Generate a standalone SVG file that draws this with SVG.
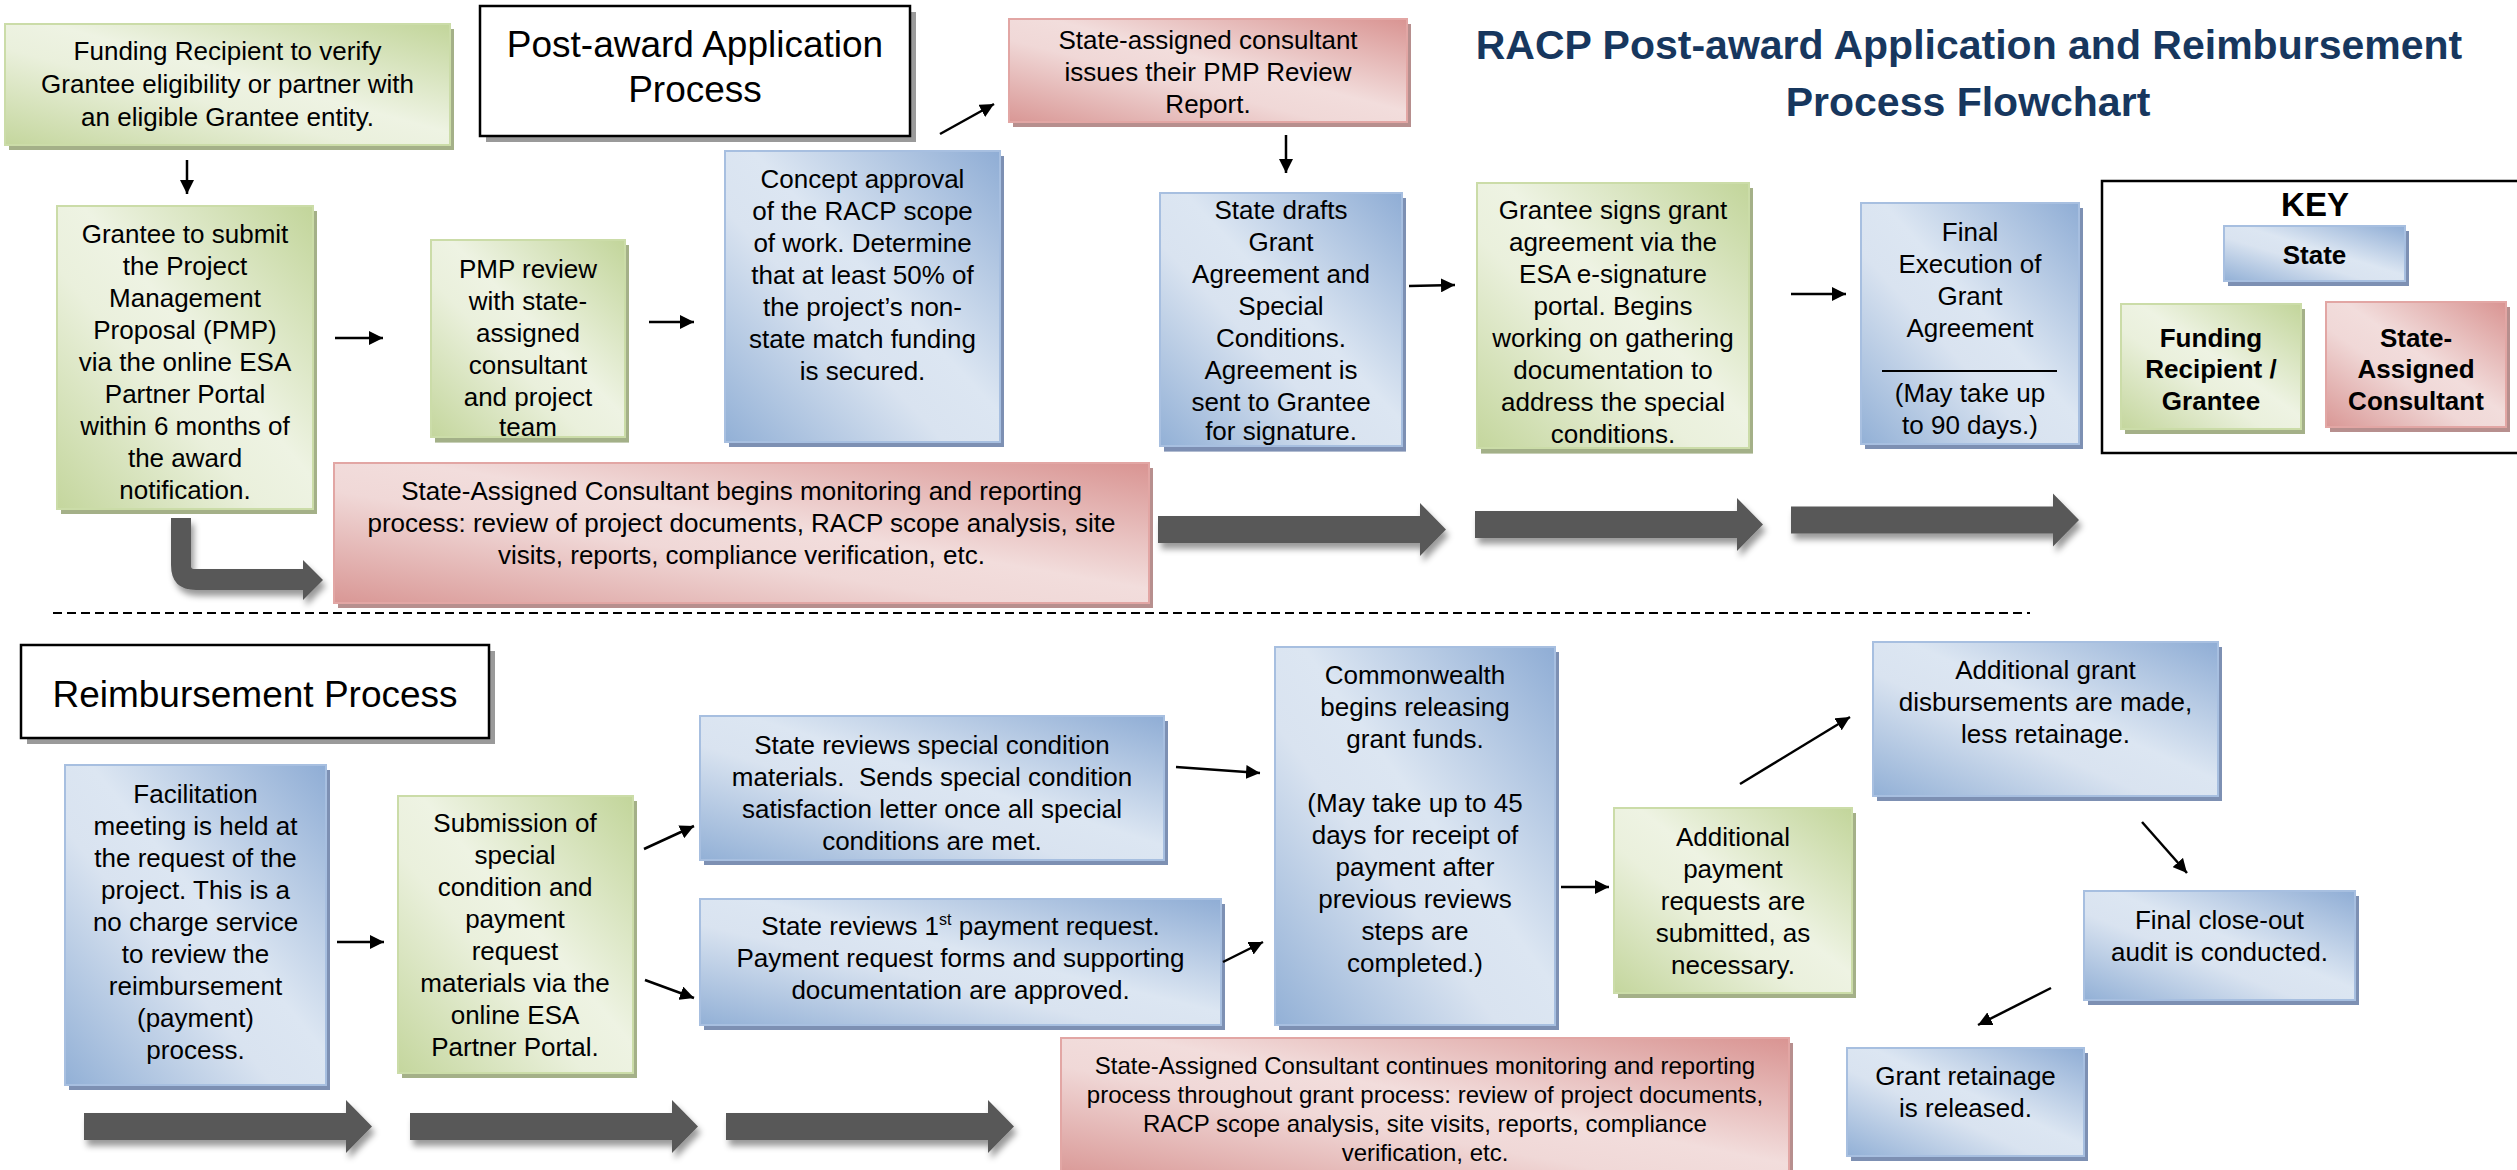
<svg xmlns="http://www.w3.org/2000/svg" xmlns:xlink="http://www.w3.org/1999/xlink" width="2517" height="1170" viewBox="0 0 2517 1170">
  <defs>
    <style>
      text { font-family: "Liberation Sans", Arial, sans-serif; fill: #000; }
      .t { font-size: 26px; text-anchor: middle; }
      .ts { font-size: 24px; text-anchor: middle; }
      .kb { font-size: 26px; font-weight: bold; text-anchor: middle; }
      .head { font-size: 37px; text-anchor: middle; }
      .title { font-size: 41px; font-weight: bold; text-anchor: middle; fill: #17375e; }
      .blue { fill: url(#gBlue); stroke: #a7bfe0; stroke-width: 2; }
      .green { fill: url(#gGreen); stroke: #cbdca8; stroke-width: 2; }
      .pink { fill: url(#gPink); stroke: #e2a6a4; stroke-width: 2; }
      .sh-blue { fill: #7d90b3; }
      .sh-green { fill: #a4b088; }
      .sh-pink { fill: #b78f8e; }
      .sh-gray { fill: #9a9a9a; }
      .plain { fill: #fff; stroke: #000; stroke-width: 2.5; }
      .conn line { stroke: #000; stroke-width: 2.5; marker-end: url(#ah); }
      .thick { fill: #595959; filter: url(#soft); }
    </style>
    <linearGradient id="gBlue" x1="1" y1="0" x2="0" y2="1">
      <stop offset="0" stop-color="#8fadd5"/>
      <stop offset="0.45" stop-color="#dce6f2"/>
      <stop offset="0.6" stop-color="#d9e3f0"/>
      <stop offset="1" stop-color="#92b0d6"/>
    </linearGradient>
    <linearGradient id="gGreen" x1="1" y1="0" x2="0" y2="1">
      <stop offset="0" stop-color="#c2d59a"/>
      <stop offset="0.45" stop-color="#eef3e3"/>
      <stop offset="0.6" stop-color="#eaf0dc"/>
      <stop offset="1" stop-color="#c4d69d"/>
    </linearGradient>
    <linearGradient id="gPink" x1="1" y1="0" x2="0" y2="1">
      <stop offset="0" stop-color="#d99492"/>
      <stop offset="0.45" stop-color="#f2dddc"/>
      <stop offset="0.6" stop-color="#f0d8d7"/>
      <stop offset="1" stop-color="#d99795"/>
    </linearGradient>
    <filter id="soft" x="-10%" y="-30%" width="120%" height="180%">
      <feDropShadow dx="3" dy="6" stdDeviation="3" flood-color="#000" flood-opacity="0.4"/>
    </filter>
    <marker id="ah" markerUnits="userSpaceOnUse" markerWidth="16" markerHeight="14" refX="14" refY="7" orient="auto">
      <path d="M0,0 L14,7 L0,14 Z" fill="#000"/>
    </marker>
    <!-- wide block arrow, origin at left end of its centre line -->
    <path id="bigArrow" d="M0,-13.5 H262 V-26.5 L288,0 L262,26.5 V13.5 H0 Z"/>
  </defs>

  <rect width="2517" height="1170" fill="#fff"/>

  <!-- heading -->
  <g id="title">
    <text class="title" x="1969" y="59">RACP Post-award Application and Reimbursement</text>
    <text class="title" x="1968" y="116">Process Flowchart</text>
  </g>

  <!-- section labels -->
  <g id="label-post-award">
    <rect class="sh-gray" x="486" y="12" width="430" height="130"/>
    <rect class="plain" x="480" y="6" width="430" height="130"/>
    <text class="head" x="695" y="57">Post-award Application</text>
    <text class="head" x="695" y="102">Process</text>
  </g>
  <g id="label-reimbursement">
    <rect class="sh-gray" x="27" y="651" width="468" height="93"/>
    <rect class="plain" x="21" y="645" width="468" height="93"/>
    <text class="head" x="255" y="707">Reimbursement Process</text>
  </g>

  <!-- post-award nodes -->
  <g id="n-verify-eligibility">
    <rect class="sh-green" x="9" y="29" width="445" height="121"/>
    <rect class="green" x="5" y="24" width="445" height="121"/>
    <text class="t" x="227.5" y="60">Funding Recipient to verify</text>
    <text class="t" x="227.5" y="93">Grantee eligibility or partner with</text>
    <text class="t" x="227.5" y="126">an eligible Grantee entity.</text>
  </g>

  <g id="n-submit-pmp">
    <rect class="sh-green" x="61" y="211" width="256" height="303"/>
    <rect class="green" x="57" y="206" width="256" height="303"/>
    <text class="t" x="185" y="243">Grantee to submit</text>
    <text class="t" x="185" y="275">the Project</text>
    <text class="t" x="185" y="307">Management</text>
    <text class="t" x="185" y="339">Proposal (PMP)</text>
    <text class="t" x="185" y="371">via the online ESA</text>
    <text class="t" x="185" y="403">Partner Portal</text>
    <text class="t" x="185" y="435">within 6 months of</text>
    <text class="t" x="185" y="467">the award</text>
    <text class="t" x="185" y="499">notification.</text>
  </g>

  <g id="n-pmp-review">
    <rect class="sh-green" x="435" y="245" width="194" height="197"/>
    <rect class="green" x="431" y="240" width="194" height="197"/>
    <text class="t" x="528" y="278">PMP review</text>
    <text class="t" x="528" y="310">with state-</text>
    <text class="t" x="528" y="342">assigned</text>
    <text class="t" x="528" y="374">consultant</text>
    <text class="t" x="528" y="406">and project</text>
    <text class="t" x="528" y="436">team</text>
    <!-- lower edge and shadow sit over the overflowing last line -->
    <rect class="sh-green" x="435" y="438" width="194" height="5" opacity="0.6"/>
    <line x1="431" y1="437" x2="625" y2="437" stroke="#cbdca8" stroke-width="2" opacity="0.8"/>
  </g>

  <g id="n-concept-approval">
    <rect class="sh-blue" x="729" y="156" width="275" height="291"/>
    <rect class="blue" x="725" y="151" width="275" height="291"/>
    <text class="t" x="862.5" y="188">Concept approval</text>
    <text class="t" x="862.5" y="220">of the RACP scope</text>
    <text class="t" x="862.5" y="252">of work. Determine</text>
    <text class="t" x="862.5" y="284">that at least 50% of</text>
    <text class="t" x="862.5" y="316">the project’s non-</text>
    <text class="t" x="862.5" y="348">state match funding</text>
    <text class="t" x="862.5" y="380">is secured.</text>
  </g>

  <g id="n-pmp-report">
    <rect class="sh-pink" x="1013" y="24" width="398" height="103"/>
    <rect class="pink" x="1009" y="19" width="398" height="103"/>
    <text class="t" x="1208" y="49">State-assigned consultant</text>
    <text class="t" x="1208" y="81">issues their PMP Review</text>
    <text class="t" x="1208" y="113">Report.</text>
  </g>

  <g id="n-state-drafts">
    <rect class="sh-blue" x="1164" y="198" width="242" height="253"/>
    <rect class="blue" x="1160" y="193" width="242" height="253"/>
    <text class="t" x="1281" y="219">State drafts</text>
    <text class="t" x="1281" y="251">Grant</text>
    <text class="t" x="1281" y="283">Agreement and</text>
    <text class="t" x="1281" y="315">Special</text>
    <text class="t" x="1281" y="347">Conditions.</text>
    <text class="t" x="1281" y="379">Agreement is</text>
    <text class="t" x="1281" y="411">sent to Grantee</text>
    <text class="t" x="1281" y="440">for signature.</text>
    <rect class="sh-blue" x="1164" y="447" width="242" height="5" opacity="0.6"/>
    <line x1="1160" y1="446" x2="1402" y2="446" stroke="#a7bfe0" stroke-width="2" opacity="0.8"/>
  </g>

  <g id="n-grantee-signs">
    <rect class="sh-green" x="1481" y="188" width="272" height="265"/>
    <rect class="green" x="1477" y="183" width="272" height="265"/>
    <text class="t" x="1613" y="219">Grantee signs grant</text>
    <text class="t" x="1613" y="251">agreement via the</text>
    <text class="t" x="1613" y="283">ESA e-signature</text>
    <text class="t" x="1613" y="315">portal. Begins</text>
    <text class="t" x="1613" y="347">working on gathering</text>
    <text class="t" x="1613" y="379">documentation to</text>
    <text class="t" x="1613" y="411">address the special</text>
    <text class="t" x="1613" y="443">conditions.</text>
    <rect class="sh-green" x="1481" y="449" width="272" height="5" opacity="0.6"/>
    <line x1="1477" y1="448" x2="1749" y2="448" stroke="#cbdca8" stroke-width="2" opacity="0.8"/>
  </g>

  <g id="n-final-execution">
    <rect class="sh-blue" x="1865" y="208" width="218" height="241"/>
    <rect class="blue" x="1861" y="203" width="218" height="241"/>
    <text class="t" x="1970" y="241">Final</text>
    <text class="t" x="1970" y="273">Execution of</text>
    <text class="t" x="1970" y="305">Grant</text>
    <text class="t" x="1970" y="337">Agreement</text>
    <line x1="1882" y1="371" x2="2057" y2="371" stroke="#000" stroke-width="2"/>
    <text class="t" x="1970" y="402">(May take up</text>
    <text class="t" x="1970" y="434">to 90 days.)</text>
  </g>

  <g id="n-consultant-monitoring">
    <rect class="sh-pink" x="338" y="468" width="815" height="140"/>
    <rect class="pink" x="334" y="463" width="815" height="140"/>
    <text class="t" x="741.5" y="500">State-Assigned Consultant begins monitoring and reporting</text>
    <text class="t" x="741.5" y="532">process: review of project documents, RACP scope analysis, site</text>
    <text class="t" x="741.5" y="564">visits, reports, compliance verification, etc.</text>
  </g>

  <!-- legend -->
  <g id="key">
    <rect x="2102" y="181" width="430" height="272" fill="#fff" stroke="#000" stroke-width="2.5"/>
    <text x="2315" y="216" font-size="33" font-weight="bold" text-anchor="middle">KEY</text>
    <g id="key-state">
      <rect class="sh-blue" x="2228" y="231" width="181" height="55"/>
      <rect class="blue" x="2224" y="226" width="181" height="55"/>
      <text class="kb" x="2314.5" y="264">State</text>
    </g>
    <g id="key-grantee">
      <rect class="sh-green" x="2125" y="309" width="180" height="125"/>
      <rect class="green" x="2121" y="304" width="180" height="125"/>
      <text class="kb" x="2211" y="347">Funding</text>
      <text class="kb" x="2211" y="378">Recipient /</text>
      <text class="kb" x="2211" y="410">Grantee</text>
    </g>
    <g id="key-consultant">
      <rect class="sh-pink" x="2330" y="307" width="180" height="125"/>
      <rect class="pink" x="2326" y="302" width="180" height="125"/>
      <text class="kb" x="2416" y="347">State-</text>
      <text class="kb" x="2416" y="378">Assigned</text>
      <text class="kb" x="2416" y="410">Consultant</text>
    </g>
  </g>

  <!-- divider between the two processes -->
  <line id="divider" x1="53" y1="613" x2="2030" y2="613" stroke="#000" stroke-width="2" stroke-dasharray="9 5"/>

  <!-- reimbursement nodes -->
  <g id="n-facilitation">
    <rect class="sh-blue" x="69" y="770" width="261" height="320"/>
    <rect class="blue" x="65" y="765" width="261" height="320"/>
    <text class="t" x="195.5" y="803">Facilitation</text>
    <text class="t" x="195.5" y="835">meeting is held at</text>
    <text class="t" x="195.5" y="867">the request of the</text>
    <text class="t" x="195.5" y="899">project. This is a</text>
    <text class="t" x="195.5" y="931">no charge service</text>
    <text class="t" x="195.5" y="963">to review the</text>
    <text class="t" x="195.5" y="995">reimbursement</text>
    <text class="t" x="195.5" y="1027">(payment)</text>
    <text class="t" x="195.5" y="1059">process.</text>
  </g>

  <g id="n-submission">
    <rect class="sh-green" x="402" y="801" width="235" height="277"/>
    <rect class="green" x="398" y="796" width="235" height="277"/>
    <text class="t" x="515" y="832">Submission of</text>
    <text class="t" x="515" y="864">special</text>
    <text class="t" x="515" y="896">condition and</text>
    <text class="t" x="515" y="928">payment</text>
    <text class="t" x="515" y="960">request</text>
    <text class="t" x="515" y="992">materials via the</text>
    <text class="t" x="515" y="1024">online ESA</text>
    <text class="t" x="515" y="1056">Partner Portal.</text>
  </g>

  <g id="n-special-conditions">
    <rect class="sh-blue" x="704" y="721" width="464" height="144"/>
    <rect class="blue" x="700" y="716" width="464" height="144"/>
    <text class="t" x="932" y="754">State reviews special condition</text>
    <text class="t" x="932" y="786" xml:space="preserve">materials.  Sends special condition</text>
    <text class="t" x="932" y="818">satisfaction letter once all special</text>
    <text class="t" x="932" y="850">conditions are met.</text>
  </g>

  <g id="n-first-payment">
    <rect class="sh-blue" x="704" y="904" width="521" height="126"/>
    <rect class="blue" x="700" y="899" width="521" height="126"/>
    <text class="t" x="960.5" y="935">State reviews 1<tspan font-size="16" dy="-10">st</tspan><tspan dy="10"> payment request.</tspan></text>
    <text class="t" x="960.5" y="967">Payment request forms and supporting</text>
    <text class="t" x="960.5" y="999">documentation are approved.</text>
  </g>

  <g id="n-commonwealth">
    <rect class="sh-blue" x="1279" y="652" width="280" height="378"/>
    <rect class="blue" x="1275" y="647" width="280" height="378"/>
    <text class="t" x="1415" y="684">Commonwealth</text>
    <text class="t" x="1415" y="716">begins releasing</text>
    <text class="t" x="1415" y="748">grant funds.</text>
    <text class="t" x="1415" y="812">(May take up to 45</text>
    <text class="t" x="1415" y="844">days for receipt of</text>
    <text class="t" x="1415" y="876">payment after</text>
    <text class="t" x="1415" y="908">previous reviews</text>
    <text class="t" x="1415" y="940">steps are</text>
    <text class="t" x="1415" y="972">completed.)</text>
  </g>

  <g id="n-additional-requests">
    <rect class="sh-green" x="1618" y="813" width="238" height="185"/>
    <rect class="green" x="1614" y="808" width="238" height="185"/>
    <text class="t" x="1733" y="846">Additional</text>
    <text class="t" x="1733" y="878">payment</text>
    <text class="t" x="1733" y="910">requests are</text>
    <text class="t" x="1733" y="942">submitted, as</text>
    <text class="t" x="1733" y="974">necessary.</text>
  </g>

  <g id="n-disbursements">
    <rect class="sh-blue" x="1877" y="647" width="345" height="154"/>
    <rect class="blue" x="1873" y="642" width="345" height="154"/>
    <text class="t" x="2045.5" y="679">Additional grant</text>
    <text class="t" x="2045.5" y="711">disbursements are made,</text>
    <text class="t" x="2045.5" y="743">less retainage.</text>
  </g>

  <g id="n-closeout">
    <rect class="sh-blue" x="2088" y="896" width="271" height="109"/>
    <rect class="blue" x="2084" y="891" width="271" height="109"/>
    <text class="t" x="2219.5" y="929">Final close-out</text>
    <text class="t" x="2219.5" y="961">audit is conducted.</text>
  </g>

  <g id="n-retainage">
    <rect class="sh-blue" x="1851" y="1053" width="237" height="108"/>
    <rect class="blue" x="1847" y="1048" width="237" height="108"/>
    <text class="t" x="1965.5" y="1085">Grant retainage</text>
    <text class="t" x="1965.5" y="1117">is released.</text>
  </g>

  <g id="n-consultant-continues">
    <rect class="sh-pink" x="1065" y="1043" width="728" height="140"/>
    <rect class="pink" x="1061" y="1038" width="728" height="140"/>
    <text class="ts" x="1425" y="1074">State-Assigned Consultant continues monitoring and reporting</text>
    <text class="ts" x="1425" y="1103">process throughout grant process: review of project documents,</text>
    <text class="ts" x="1425" y="1132">RACP scope analysis, site visits, reports, compliance</text>
    <text class="ts" x="1425" y="1161">verification, etc.</text>
  </g>

  <!-- connectors -->
  <g id="connectors">
    <g class="conn">
      <line x1="187" y1="160" x2="187" y2="194"/>
      <line x1="335" y1="338" x2="383" y2="338"/>
      <line x1="649" y1="322" x2="694" y2="322"/>
      <line x1="940" y1="134" x2="994" y2="104"/>
      <line x1="1286" y1="135" x2="1286" y2="173"/>
      <line x1="1409" y1="286" x2="1455" y2="285"/>
      <line x1="1791" y1="294" x2="1846" y2="294"/>
      <line x1="337" y1="942" x2="384" y2="942"/>
      <line x1="644" y1="849" x2="694" y2="826"/>
      <line x1="645" y1="980" x2="694" y2="998"/>
      <line x1="1176" y1="767" x2="1260" y2="773"/>
      <line x1="1223" y1="962" x2="1263" y2="942"/>
      <line x1="1561" y1="887" x2="1609" y2="887"/>
      <line x1="1740" y1="784" x2="1850" y2="717"/>
      <line x1="2142" y1="822" x2="2187" y2="873"/>
      <line x1="2051" y1="988" x2="1978" y2="1025"/>
    </g>
    <!-- timeline block arrows -->
    <path class="thick" d="M171,518 H191 V566 Q191,569 194,569 H303 V560 L323,580 L303,600 V590 H196 Q171,590 171,565 Z"/>
    <use class="thick" xlink:href="#bigArrow" x="1158" y="529.5"/>
    <use class="thick" xlink:href="#bigArrow" x="1475" y="524.5"/>
    <use class="thick" xlink:href="#bigArrow" x="1791" y="520"/>
    <use class="thick" xlink:href="#bigArrow" x="84" y="1126.5"/>
    <use class="thick" xlink:href="#bigArrow" x="410" y="1126.5"/>
    <use class="thick" xlink:href="#bigArrow" x="726" y="1126.5"/>
  </g>
</svg>
